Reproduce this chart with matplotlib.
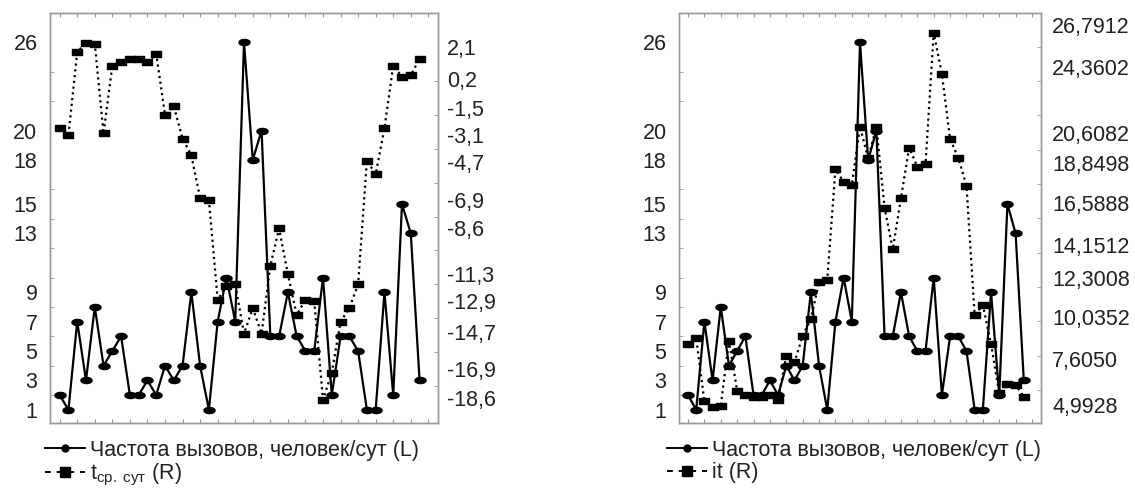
import numpy as np
import matplotlib.pyplot as plt
from matplotlib.path import Path
from matplotlib.lines import Line2D

plt.rcParams['font.family'] = ['Liberation Sans', 'DejaVu Sans']
plt.rcParams['mathtext.fontset'] = 'custom'
plt.rcParams['mathtext.rm'] = 'Liberation Sans'
plt.rcParams['mathtext.it'] = 'Liberation Sans:italic'

# частота вызовов (левая ось, обе панели)
calls = [2, 1, 7, 3, 8, 4, 5, 6, 2, 2, 3, 2, 4, 3, 4, 9, 4, 1, 7, 10, 7,
         26, 18, 20, 6, 6, 9, 6, 5, 5, 10, 2, 6, 6, 5, 1, 1, 9, 2, 15, 13, 3]

# среднесуточная температура (правая ось, левая панель)
t_day = [-2.7, -3.1, 1.8, 2.35, 2.3, -3.0, 1.0, 1.2, 1.4, 1.4, 1.2, 1.7,
         -1.9, -1.4, -3.3, -4.3, -6.8, -6.9, -12.8, -12.0, -11.9, -14.8,
         -13.3, -14.8, -10.8, -8.6, -11.3, -13.7, -12.8, -12.9, -18.7, -17.1,
         -14.1, -13.3, -11.9, -4.6, -5.4, -2.7, 1.0, 0.35, 0.45, 1.4]

# it (правая ось, правая панель)
it_vals = [8.49, 8.82, 5.22, 4.89, 4.95, 8.68, 5.79, 5.56, 5.47, 5.47, 5.56,
           5.28, 7.82, 7.44, 8.97, 9.92, 12.06, 12.16, 18.51, 17.8, 17.61,
           20.96, 19.14, 20.96, 16.31, 13.92, 16.85, 19.75, 18.66, 18.8,
           26.35, 23.98, 20.25, 19.18, 17.57, 10.15, 10.73, 8.49, 5.66, 6.19,
           6.14, 5.47]

left_ticks = [1, 3, 5, 7, 9, 13, 15, 18, 20, 26]
t_ticks = [2.1, 0.2, -1.5, -3.1, -4.7, -6.9, -8.6, -11.3, -12.9, -14.7, -16.9, -18.6]
it_ticks = [26.7912, 24.3602, 20.6082, 18.8498, 16.5888, 14.1512, 12.3008,
            10.0352, 7.6050, 4.9928]

calls_label = 'Частота вызовов, человек/сут (L)'
t_label = r't$_{\mathrm{ср.\ сут}}$ (R)'
it_label = 'it (R)'

# маркеры: сплюснутый эллипс и прямоугольник
th = np.linspace(0, 2 * np.pi, 40)
ell = Path(np.column_stack([np.cos(th), 0.55 * np.sin(th)]), closed=True)
sq = Path([(-1, -0.6), (1, -0.6), (1, 0.6), (-1, 0.6), (-1, -0.6)], closed=True)

W, H = 1135, 490
fig = plt.figure(figsize=(W / 100, H / 100), dpi=100)
grey = '#999999'
x = np.arange(len(calls))


def panel(left_px, right_px, rvals, rticks, rlabels, rlim, rminor, rlabel, rpad, legend_x):
    ax = fig.add_axes([left_px / W, 1 - 423 / H, (right_px - left_px) / W, 410 / H])
    ax.plot(x, calls, color='black', lw=1.6, marker=ell, ms=8, zorder=3)
    ax.set_xlim(-1.1, 43.1)
    ax.set_ylim(0.1, 28.0)
    ax.set_yticks(left_ticks, [str(v) for v in left_ticks])
    ax.tick_params(axis='y', which='major', length=0, pad=9, labelsize=15.5, labelcolor='#222222')
    ax.set_yticks(np.arange(2, 27, 2), minor=True)
    ax.tick_params(axis='y', which='minor', direction='in', length=3, color=grey)
    ax.set_xticks(np.arange(0, 43, 2))
    ax.tick_params(axis='x', direction='in', length=3, color=grey, top=True,
                   bottom=True, labelbottom=False)

    ax2 = ax.twinx()
    ax2.plot(x, rvals, color='black', lw=1.6, ls=(0, (1, 1.6)), marker=sq, ms=7)
    ax2.set_ylim(*rlim)
    ax2.set_yticks(rticks, rlabels)
    ax2.tick_params(axis='y', which='major', length=0, pad=rpad, labelsize=15.5, labelcolor='#222222')
    ax2.set_yticks(rminor, minor=True)
    ax2.tick_params(axis='y', which='minor', direction='in', length=3, color=grey)

    for a in (ax, ax2):
        for s in a.spines.values():
            s.set_color(grey)
            s.set_linewidth(1)

    handles = [
        Line2D([], [], color='black', lw=1.4, marker='o', ms=5),
        Line2D([], [], color='black', lw=1.4, ls=(0, (3, 3)), marker='s', ms=7),
    ]
    fig.legend(handles, [calls_label, rlabel], loc='upper left',
               bbox_to_anchor=(legend_x / W, 1 - 440 / H),
               frameon=False, fontsize=15.5, handlelength=1.85, handletextpad=0.25,
               labelspacing=0.05, borderaxespad=0, borderpad=0,
               labelcolor='#222222')
    return ax, ax2


panel(50, 438, t_day, t_ticks, [f'{v:.1f}'.replace('.', ',') for v in t_ticks],
      (-20.07, 4.1), 2.1 - 2 * np.arange(11), t_label, 6.5, 45)

panel(679, 1041, it_vals, it_ticks, [f'{v:.4f}'.replace('.', ',') for v in it_ticks],
      (3.96, 27.48), 25.55 - 1.97 * np.arange(11), it_label, 8, 667)

fig.savefig('out.png', dpi=100)
